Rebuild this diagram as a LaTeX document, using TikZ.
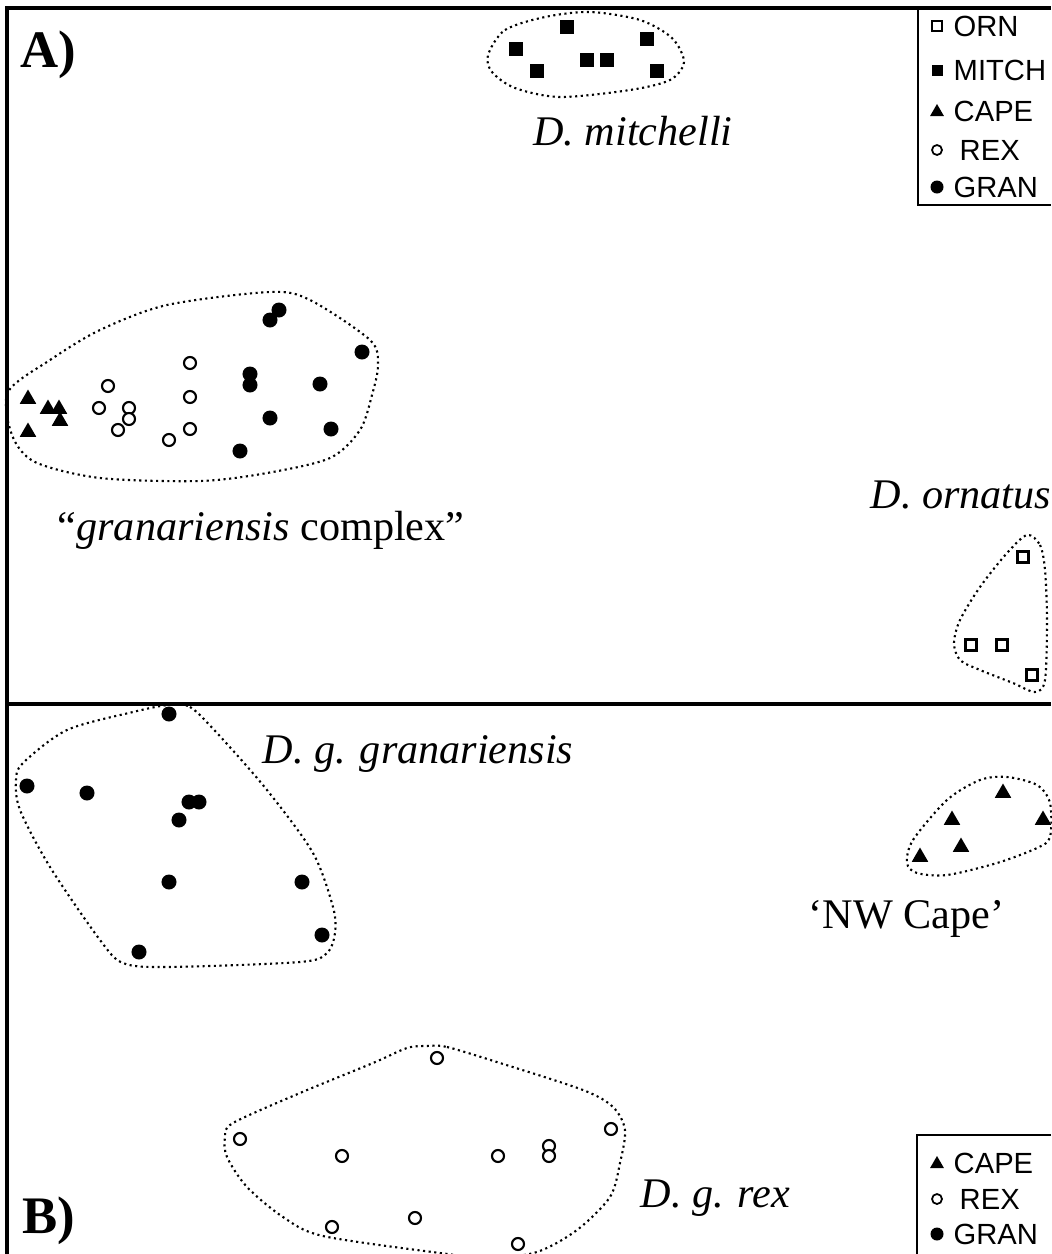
\documentclass[tikz,border=0pt]{standalone}
\usepackage{fontspec}
\setmainfont{Liberation Serif}
\newfontfamily\legfont{Liberation Sans}
\usetikzlibrary{shapes.geometric}

\begin{document}
\begin{tikzpicture}[x=0.01cm, y=-0.01cm,
	gran/.style={circle, fill=black, inner sep=0pt, minimum size=0.15cm},
	rex/.style={circle, draw, fill=white, line width=0.6pt, inner sep=0pt, minimum size=0.12cm},
	cape/.style={regular polygon, regular polygon sides=3, fill=black, inner sep=0pt, minimum size=0.19cm},
	mitch/.style={rectangle, fill=black, inner sep=0pt, minimum size=0.14cm},
	orn/.style={rectangle, draw, line width=0.6pt, inner sep=0pt, minimum size=0.11cm},
	hull/.style={densely dotted, line width=0.6pt},
	lab/.style={font=\fontsize{12}{14}\selectfont, inner sep=0pt},
	leg/.style={font=\legfont\fontsize{8.3}{10}\selectfont, anchor=west, inner sep=0pt}]
	\useasboundingbox (0,0) rectangle (1051,1254);
	\draw[line width=0.9pt] (1051,8) -- (7,8) -- (7,1254);
	\draw[line width=0.9pt] (7,704) -- (1051,704);
	% panel A
	\draw[line width=0.4pt] (918,8) -- (918,205) -- (1051,205);
	\node[orn, minimum size=0.1cm, line width=0.5pt] (lA1) at (937,26) {};
	\node[leg] (tA1) at (953,26) {ORN};
	\node[mitch, minimum size=0.11cm] (lA2) at (937,70) {};
	\node[leg] (tA2) at (953,70) {MITCH};
	\node[cape, minimum size=0.16cm] (lA3) at (937,112) {};
	\node[leg] (tA3) at (953,111) {CAPE};
	\node[rex, minimum size=0.1cm, line width=0.5pt] (lA4) at (937,150) {};
	\node[leg] (tA4) at (959,150) {REX};
	\node[gran, minimum size=0.13cm] (lA5) at (937,187) {};
	\node[leg] (tA5) at (953,187) {GRAN};
	\node[font=\fontsize{15}{17}\selectfont\bfseries, inner sep=0pt, anchor=base west] (A) at (20,67) {A)};
	\draw[hull] plot[smooth cycle] coordinates {(8,392) (50,360) (100,330) (167,305) (270,292) (310,300) (370,340) (378,365) (372,395) (360,430) (330,458) (267,473) (200,481) (100,478) (35,462) (12,435)};
	\draw[hull] plot[smooth cycle] coordinates {(488,55) (505,30) (545,17) (590,12) (640,20) (672,38) (684,62) (670,80) (630,90) (560,97) (515,88) (492,72)};
	\draw[hull] plot[smooth cycle] coordinates {(1027,535) (1040,545) (1045,570) (1047,620) (1045,680) (1035,692) (1013,683) (980,670) (960,660) (954,643) (960,620) (980,587) (1007,553)};
	\foreach \x/\y [count=\i] in {567/27, 516/49, 537/71, 587/60, 607/60, 647/39, 657/71}
		\node[mitch] (m\i) at (\x,\y) {};
	\foreach \x/\y [count=\i] in {1023/557, 971/645, 1002/645, 1032/675}
		\node[orn] (o\i) at (\x,\y) {};
	\foreach \x/\y [count=\i] in {28/399, 28/432, 48/409, 59/409, 60/421}
		\node[cape] (ca\i) at (\x,\y) {};
	\foreach \x/\y [count=\i] in {108/386, 99/408, 129/408, 129/419, 118/430, 190/363, 190/397, 190/429, 169/440}
		\node[rex] (ra\i) at (\x,\y) {};
	\foreach \x/\y [count=\i] in {279/310, 270/320, 362/352, 250/374, 250/385, 320/384, 270/418, 331/429, 240/451}
		\node[gran] (ga\i) at (\x,\y) {};
	\node[lab, anchor=base] (mitchlab) at (633,145) {\itshape D. mitchelli};
	\node[lab, anchor=base west] (complexlab) at (57,540) {“\textit{granariensis} complex”};
	\node[lab, anchor=base west] (ornlab) at (870,508) {\itshape D. ornatus};
	% panel B
	\draw[line width=0.4pt] (1051,1135) -- (917,1135) -- (917,1254);
	\node[cape, minimum size=0.16cm] (lB1) at (937,1164) {};
	\node[leg] (tB1) at (953,1163) {CAPE};
	\node[rex, minimum size=0.1cm, line width=0.5pt] (lB2) at (937,1199) {};
	\node[leg] (tB2) at (959,1199) {REX};
	\node[gran, minimum size=0.13cm] (lB3) at (937,1234) {};
	\node[leg] (tB3) at (953,1234) {GRAN};
	\node[font=\fontsize{15}{17}\selectfont\bfseries, inner sep=0pt, anchor=base west] (B) at (22,1233) {B)};
	\draw[hull] plot[smooth cycle] coordinates {(168,705) (190,707) (217,733) (267,790) (313,853) (333,907) (335,933) (327,953) (300,962) (167,967) (123,963) (100,940) (50,867) (20,810) (16,780) (23,763) (67,730) (133,712)};
	\draw[hull] plot[smooth cycle] coordinates {(907,863) (913,840) (947,800) (980,780) (1007,777) (1037,785) (1050,803) (1050,837) (1037,848) (997,863) (947,875) (917,873)};
	\draw[hull] plot[smooth cycle] coordinates {(427,1046) (447,1047) (500,1063) (583,1090) (613,1107) (625,1130) (620,1163) (610,1197) (577,1230) (537,1252) (490,1258) (440,1253) (323,1236) (283,1217) (247,1187) (227,1157) (225,1137) (233,1123) (300,1093) (373,1063) (407,1048)};
	\foreach \x/\y [count=\i] in {169/714, 27/786, 87/793, 189/802, 199/802, 179/820, 169/882, 302/882, 322/935, 139/952}
		\node[gran] (gb\i) at (\x,\y) {};
	\foreach \x/\y [count=\i] in {1003/793, 952/820, 1043/820, 961/847, 920/857}
		\node[cape] (cb\i) at (\x,\y) {};
	\foreach \x/\y [count=\i] in {437/1058, 240/1139, 342/1156, 498/1156, 549/1146, 549/1156, 611/1129, 332/1227, 415/1218, 518/1244}
		\node[rex] (rb\i) at (\x,\y) {};
	\node[lab, anchor=base west] (grangranlab) at (262,763) {\itshape D. g. granariensis};
	\node[lab, anchor=base west] (capelab) at (808,928) {‘NW Cape’};
	\node[lab, anchor=base west] (rexlab) at (640,1207) {\itshape D. g. rex};
\end{tikzpicture}
\end{document}
